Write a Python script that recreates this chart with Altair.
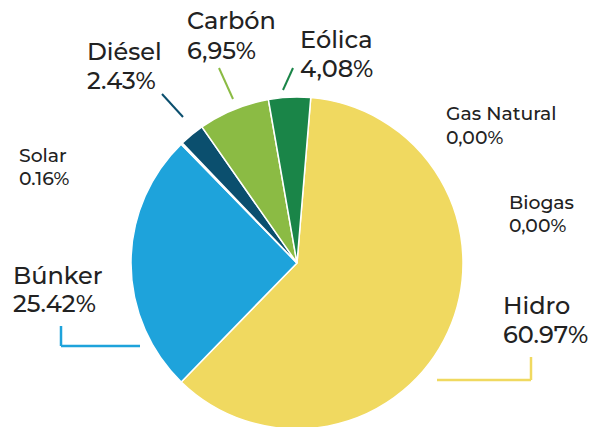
import math
import altair as alt
import pandas as pd

# ---- data ----
categories = ["Hidro", "Búnker", "Solar", "Diésel", "Carbón", "Eólica", "Gas Natural", "Biogas"]
values = [60.97, 25.42, 0.16, 2.43, 6.95, 4.08, 0.00, 0.00]
pct_labels = ["60.97%", "25.42%", "0.16%", "2.43%", "6,95%", "4,08%", "0,00%", "0,00%"]
colors = ["#F0D960", "#1EA3DB", "#9CCB5A", "#0B4F6E", "#8BBB44", "#1A8548", "#BBBBBB", "#CCCCCC"]

# ---- layout (annotation placement, pixels) ----
label_x = [503, 13, 19, 87, 187, 300, 446, 509]
label_y1 = [307, 277, 156, 53, 22, 41, 114, 203]
label_y2 = [336, 305, 179, 82, 52, 70, 138, 226]
big = [True, True, False, True, True, True, False, False]

CX, CY, R = 297, 263, 166
OFFSET = 0.083

df = pd.DataFrame({
    "cat": categories,
    "value": values,
    "idx": list(range(len(categories))),
})

lab = pd.DataFrame({
    "cat": categories,
    "pct": pct_labels,
    "lx": label_x,
    "ly1": label_y1,
    "ly2": label_y2,
    "big": big,
})

FONT = "Montserrat, Inter, Open Sans, sans-serif"

pie = alt.Chart(df).transform_filter("datum.value > 0").mark_arc(
    radius=R, stroke="white", strokeWidth=1.5
).encode(
    theta=alt.Theta("value:Q", stack=True,
                    scale=alt.Scale(range=[OFFSET, OFFSET + 2 * math.pi])),
    order=alt.Order("idx:Q"),
    color=alt.Color("cat:N", scale=alt.Scale(domain=categories, range=colors), legend=None),
    x=alt.value(CX),
    y=alt.value(CY),
)

def text_layer(is_big, field, yfield):
    size = 24 if is_big else 18.8
    return alt.Chart(lab).transform_filter(
        "datum.big" if is_big else "!datum.big"
    ).mark_text(
        align="left", baseline="middle", font=FONT, fontSize=size,
        fontWeight=500, color="#222222"
    ).encode(
        x=alt.X("lx:Q", scale=None),
        y=alt.Y(f"{yfield}:Q", scale=None),
        text=f"{field}:N",
    )

texts = [
    text_layer(True, "cat", "ly1"),
    text_layer(True, "pct", "ly2"),
    text_layer(False, "cat", "ly1"),
    text_layer(False, "pct", "ly2"),
]

# leader lines (annotation)
leaders = [
    (162, 94, 183, 117, "#0B4F6E", 2),
    (219, 68, 233, 99, "#8BBB44", 2),
    (293, 68, 283, 90, "#1A8548", 2),
    (61, 326, 61, 346, "#1EA3DB", 2.5),
    (61, 346, 140, 346, "#1EA3DB", 2.5),
    (531, 357, 531, 380, "#F0D960", 2.5),
    (437, 380, 531, 380, "#F0D960", 2.5),
]
rules = [
    alt.Chart(df).transform_filter("datum.idx == 0").mark_rule(
        color=c, strokeWidth=w, strokeCap="butt"
    ).encode(
        x=alt.value(x1), y=alt.value(y1), x2=alt.value(x2), y2=alt.value(y2)
    )
    for (x1, y1, x2, y2, c, w) in leaders
]

chart = alt.layer(pie, *rules, *texts).properties(
    width=590, height=427,
    autosize=alt.AutoSizeParams(type="none"),
    padding=0,
).configure_view(stroke=None)

chart.save("out.html", embed_options={"renderer": "svg", "actions": False})
